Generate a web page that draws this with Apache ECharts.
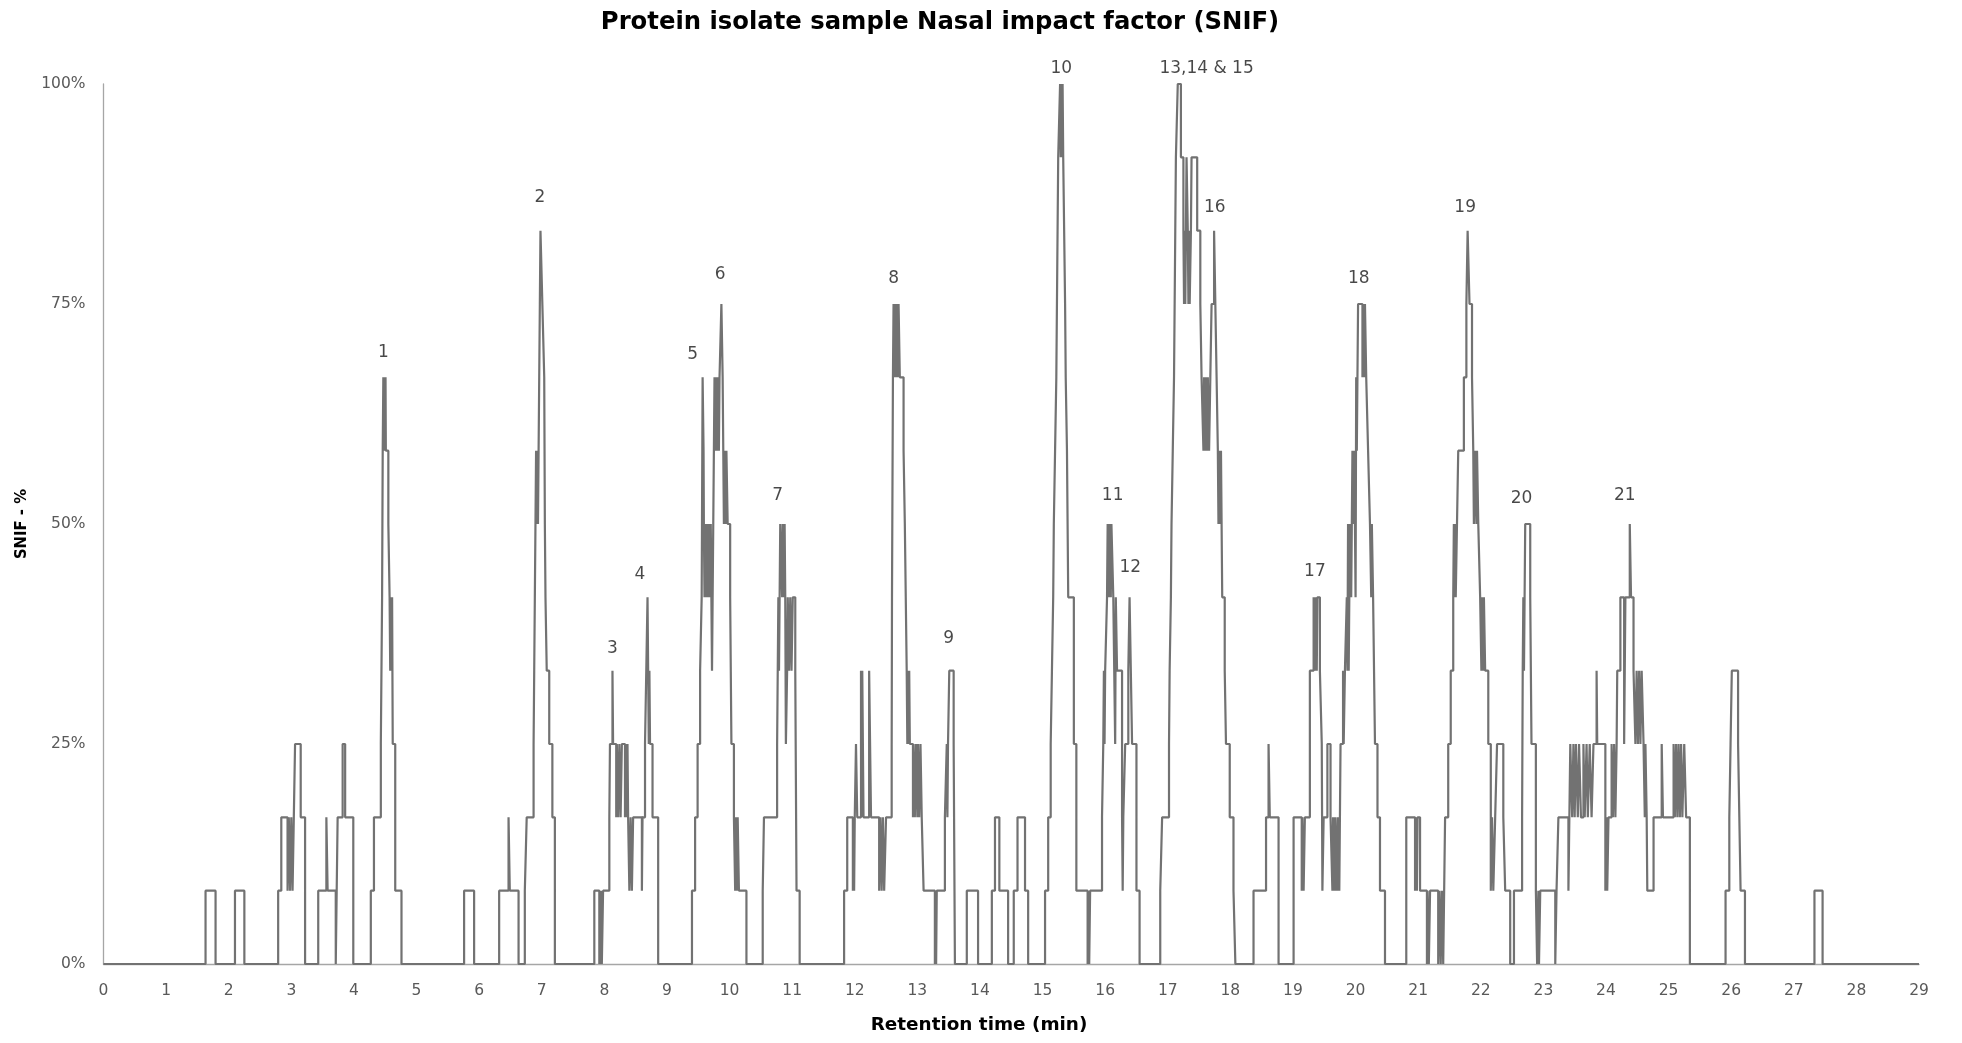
<!DOCTYPE html>
<html><head><meta charset="utf-8">
<script src="https://cdn.jsdelivr.net/npm/echarts@6/dist/echarts.min.js"></script>
<style>html,body{margin:0;padding:0;background:#fff}#c{width:1962px;height:1043px}</style>
</head><body><div id="c"></div>
<script>
// ---- DATA ----
const chartTitle = 'Protein isolate sample Nasal impact factor (SNIF)';
const xAxisTitle = 'Retention time (min)';
const yAxisTitle = 'SNIF - %';
const panelSize = 12; // number of assessors; SNIF % = count / panelSize
// step trace change points: [retention time (min), number of assessors detecting an odour]
const stepPoints = [[0,0],
[1.63,1],[1.79,0],[2.10,1],[2.25,0],
[2.79,1],[2.84,2],[2.94,1],[2.96,2],[2.98,1],[3.00,2],[3.02,1],[3.04,2],[3.06,3],[3.15,2],[3.22,0],
[3.43,1],[3.56,2],[3.58,1],[3.71,0],[3.74,2],[3.82,3],[3.86,2],[3.99,0],
[4.27,1],[4.32,2],[4.43,3],[4.44,4],[4.45,5],[4.455,6],[4.46,7],[4.47,8],[4.485,7],[4.49,8],[4.50,7],[4.505,8],[4.51,7],[4.55,6],[4.57,5],[4.58,4],[4.59,5],[4.60,4],[4.61,5],[4.62,3],[4.66,1],[4.76,0],
[5.76,1],[5.92,0],
[6.32,1],[6.47,2],[6.49,1],[6.63,0],
[6.73,1],[6.76,2],[6.87,3],[6.88,4],[6.89,5],[6.90,6],[6.91,7],[6.92,6],[6.93,7],[6.94,6],[6.95,7],[6.96,8],[6.97,9],[6.98,10],[7.01,9],[7.04,8],[7.045,7],[7.05,6],[7.06,5],[7.08,4],[7.12,3],[7.17,2],[7.21,0],
[7.84,1],[7.92,0],[7.93,1],[7.94,0],[7.95,1],[7.96,0],[7.98,1],[8.08,2],[8.09,3],[8.13,4],[8.14,3],[8.19,2],[8.20,3],[8.22,2],[8.24,3],[8.26,2],[8.28,3],[8.33,2],[8.34,3],[8.36,2],[8.37,3],[8.38,2],[8.40,1],[8.42,2],[8.44,1],[8.46,2],[8.60,1],[8.61,2],[8.65,3],[8.67,4],[8.69,5],[8.70,4],[8.71,3],[8.72,4],[8.73,3],[8.77,2],[8.86,0],
[9.40,1],[9.45,2],[9.49,3],[9.53,4],[9.555,5],[9.56,6],[9.565,7],[9.57,8],[9.585,7],[9.59,6],[9.60,5],[9.62,6],[9.63,5],[9.64,6],[9.66,5],[9.67,6],[9.68,5],[9.70,6],[9.72,4],[9.73,5],[9.74,6],[9.75,7],[9.76,8],[9.77,7],[9.78,8],[9.80,7],[9.81,8],[9.83,7],[9.84,8],[9.87,9],[9.89,8],[9.90,7],[9.91,6],[9.92,7],[9.94,6],[9.95,7],[9.97,6],[10.01,5],[10.03,3],[10.07,2],[10.09,1],[10.10,2],[10.12,1],[10.13,2],[10.15,1],[10.27,0],
[10.53,1],[10.55,2],[10.76,3],[10.77,4],[10.78,5],[10.79,4],[10.80,5],[10.81,6],[10.84,5],[10.85,6],[10.86,5],[10.88,6],[10.89,5],[10.90,3],[10.92,4],[10.93,5],[10.95,4],[10.97,5],[10.99,4],[11.01,5],[11.05,4],[11.07,1],[11.12,0],
[11.83,1],[11.88,2],[11.97,1],[11.98,2],[11.99,1],[12.00,2],[12.02,3],[12.04,2],[12.10,4],[12.11,2],[12.12,4],[12.14,2],[12.23,4],[12.26,2],[12.39,1],[12.41,2],[12.43,1],[12.45,2],[12.47,1],[12.50,2],[12.59,3],[12.595,5],[12.60,6],[12.61,8],[12.62,9],[12.63,8],[12.64,9],[12.66,8],[12.67,9],[12.69,8],[12.70,9],[12.72,8],[12.78,7],[12.80,6],[12.83,4],[12.84,3],[12.85,4],[12.86,3],[12.87,4],[12.88,3],[12.93,2],[12.94,3],[12.96,2],[12.98,3],[13.00,2],[13.01,3],[13.03,2],[13.05,3],[13.07,2],[13.10,1],[13.28,0],[13.29,1],[13.30,0],[13.31,1],[13.44,2],[13.47,3],[13.48,2],[13.49,3],[13.51,4],[13.58,3],[13.60,0],
[13.79,1],[13.97,0],
[14.19,1],[14.24,2],[14.31,1],[14.45,0],
[14.54,1],[14.60,2],[14.72,1],[14.77,0],
[15.04,1],[15.09,2],[15.13,3],[15.15,4],[15.17,5],[15.18,6],[15.20,7],[15.22,8],[15.25,11],[15.28,12],[15.29,11],[15.30,12],[15.31,11],[15.32,12],[15.33,11],[15.36,9],[15.37,8],[15.39,7],[15.40,6],[15.41,5],[15.50,3],[15.54,1],[15.72,0],[15.735,1],[15.745,0],[15.76,1],
[15.95,2],[15.97,3],[15.98,4],[15.99,3],[16.00,4],[16.03,5],[16.04,6],[16.06,5],[16.07,6],[16.09,5],[16.10,6],[16.13,5],[16.16,3],[16.17,5],[16.19,4],[16.27,2],[16.28,1],[16.29,2],[16.32,3],[16.37,4],[16.39,5],[16.41,4],[16.43,3],[16.50,1],[16.55,0],
[16.88,1],[16.91,2],[17.02,3],[17.03,4],[17.05,5],[17.06,6],[17.08,7],[17.10,8],[17.11,9],[17.12,10],[17.13,11],[17.16,12],[17.21,11],[17.25,10],[17.26,9],[17.27,10],[17.28,9],[17.30,11],[17.32,10],[17.33,9],[17.34,10],[17.35,9],[17.37,10],[17.38,11],[17.47,10],[17.52,9],[17.54,8],[17.57,7],[17.58,8],[17.60,7],[17.61,8],[17.63,7],[17.64,8],[17.66,7],[17.68,8],[17.70,9],[17.74,10],[17.76,9],[17.78,8],[17.80,7],[17.81,6],[17.82,7],[17.84,6],[17.85,7],[17.87,5],[17.91,4],[17.93,3],[17.99,2],[18.05,1],[18.08,0],
[18.37,1],[18.57,2],[18.61,3],[18.63,2],[18.77,0],
[19.01,2],[19.14,1],[19.15,2],[19.17,1],[19.19,2],[19.27,4],[19.33,5],[19.35,4],[19.36,5],[19.38,4],[19.39,5],[19.43,4],[19.46,3],[19.47,1],[19.49,2],[19.55,3],[19.60,2],[19.63,1],[19.64,2],[19.66,1],[19.67,2],[19.69,1],[19.71,2],[19.72,1],[19.73,2],[19.74,1],[19.76,3],[19.80,4],[19.81,3],[19.83,4],[19.86,5],[19.87,4],[19.88,6],[19.89,4],[19.91,6],[19.93,5],[19.95,7],[19.97,6],[19.98,7],[20.00,5],[20.01,8],[20.02,7],[20.04,9],[20.11,8],[20.12,9],[20.14,8],[20.15,9],[20.17,8],[20.20,7],[20.23,6],[20.25,5],[20.26,6],[20.28,5],[20.31,3],[20.35,2],[20.39,1],[20.47,0],
[20.81,2],[20.95,1],[20.96,2],[20.98,1],[20.99,2],[21.03,1],[21.14,0],[21.15,1],[21.17,0],[21.19,1],[21.32,0],[21.34,1],[21.36,0],[21.38,1],[21.40,0],[21.43,2],[21.48,3],[21.52,4],[21.56,5],[21.57,6],[21.58,5],[21.59,6],[21.60,5],[21.62,6],[21.64,7],[21.73,8],[21.77,9],[21.79,10],[21.82,9],[21.86,8],[21.88,7],[21.89,6],[21.91,7],[21.93,6],[21.94,7],[21.96,6],[21.99,5],[22.01,4],[22.02,5],[22.04,4],[22.05,5],[22.07,4],[22.12,3],[22.16,1],[22.18,2],[22.20,1],[22.23,2],[22.26,3],[22.36,2],[22.39,1],[22.47,0],
[22.53,1],[22.66,2],[22.67,4],[22.68,5],[22.69,4],[22.70,5],[22.71,6],[22.79,5],[22.81,3],[22.88,1],[22.90,0],[22.92,1],[22.93,0],[22.95,1],[23.19,0],[23.21,1],[23.24,2],[23.40,1],
[23.43,3],[23.46,2],[23.48,3],[23.50,2],[23.52,3],[23.55,2],[23.57,3],[23.60,2],[23.64,3],[23.66,2],[23.69,3],[23.71,2],[23.74,3],[23.77,2],[23.80,3],[23.85,4],[23.86,3],
[23.99,1],[24.01,2],[24.02,1],[24.04,2],[24.09,3],[24.11,2],[24.13,3],[24.15,2],[24.17,3],[24.18,4],[24.23,5],[24.29,3],[24.31,5],[24.38,6],[24.40,5],[24.44,4],[24.47,3],[24.49,4],[24.51,3],[24.53,4],[24.55,3],[24.57,4],[24.60,3],[24.62,2],[24.63,3],[24.65,2],[24.66,1],[24.76,2],[24.89,3],[24.91,2],[25.08,3],[25.10,2],[25.12,3],[25.14,2],[25.16,3],[25.18,2],[25.20,3],[25.22,2],[25.25,3],[25.28,2],[25.34,0],
[25.91,1],[25.97,2],[25.99,3],[26.01,4],[26.11,3],[26.13,2],[26.15,1],[26.22,0],
[27.33,1],[27.46,0],[29,0]];
const yTickValues = [0, 25, 50, 75, 100];
// peak annotations: label text, label centre time (min) and label centre height (%)
const peakNames = ['1','2','3','4','5','6','7','8','9','10','11','12','13,14 & 15','16','17','18','19','20','21'];
const peakLabelTimes = [4.47,6.97,8.13,8.57,9.41,9.85,10.77,12.62,13.50,15.30,16.12,16.40,17.62,17.75,19.35,20.05,21.75,22.65,24.30];
const peakLabelHeights = [69.5,87.1,35.8,44.3,69.2,78.4,53.2,77.9,37.0,101.7,53.2,45.1,101.7,86.0,44.6,77.9,86.0,52.9,53.2];

// ---- CHART ----
const trace = stepPoints.map(p => [p[0], p[1] * 100 / panelSize]);
const labelPts = peakNames.map((n, i) => ({ name: n, value: [peakLabelTimes[i], peakLabelHeights[i]] }));
const FONT = '"DejaVu Sans", "Open Sans", sans-serif';

const chart = echarts.init(document.getElementById('c'), null, { renderer: 'canvas' });
chart.setOption({
  animation: false,
  backgroundColor: '#ffffff',
  graphic: [{
    type: 'text', x: 940, y: 23,
    style: { text: chartTitle, font: 'bold 24.3px "DejaVu Sans"', fill: '#000000', align: 'center', verticalAlign: 'middle' }
  }, {
    type: 'text', x: 979, y: 1025,
    style: { text: xAxisTitle, font: 'bold 18.4px "DejaVu Sans"', fill: '#000000', align: 'center', verticalAlign: 'middle' }
  }],
  grid: { left: 103.5, right: 43, top: 84, bottom: 79, containLabel: false, outerBoundsMode: 'none' },
  xAxis: {
    type: 'value', min: 0, max: 29, interval: 1,
    axisLine: { show: true, lineStyle: { color: '#a6a6a6', width: 1.3 } },
    axisTick: { show: false },
    splitLine: { show: false },
    axisLabel: { margin: 19, fontFamily: FONT, fontSize: 15.5, color: '#595959' }
  },
  yAxis: {
    type: 'value', min: 0, max: 100, interval: 25,
    name: yAxisTitle, nameLocation: 'middle', nameGap: 61, nameRotate: 90,
    nameTextStyle: { fontFamily: '"Liberation Sans Narrow", "DejaVu Sans Condensed", sans-serif', fontWeight: 'bold', fontSize: 16.5, color: '#000' },
    axisLine: { show: true, lineStyle: { color: '#a6a6a6', width: 1.3 } },
    axisTick: { show: false },
    splitLine: { show: false },
    axisLabel: {
      margin: 18, fontFamily: FONT, fontSize: 15.5, color: '#595959',
      formatter: v => (yTickValues.indexOf(v) >= 0 ? v + '%' : '')
    }
  },
  series: [
    {
      type: 'line', step: 'end', data: trace, showSymbol: false, symbol: 'none',
      lineStyle: { color: '#727272', width: 2.2 }, clip: true, z: 3
    },
    {
      type: 'scatter', data: labelPts, symbolSize: 1, itemStyle: { color: 'rgba(0,0,0,0)' },
      clip: false, silent: true, z: 4,
      label: {
        show: true, position: 'inside', formatter: p => p.name,
        fontFamily: FONT, fontSize: 17, color: '#1a1a1a'
      }
    }
  ]
});
</script></body></html>
